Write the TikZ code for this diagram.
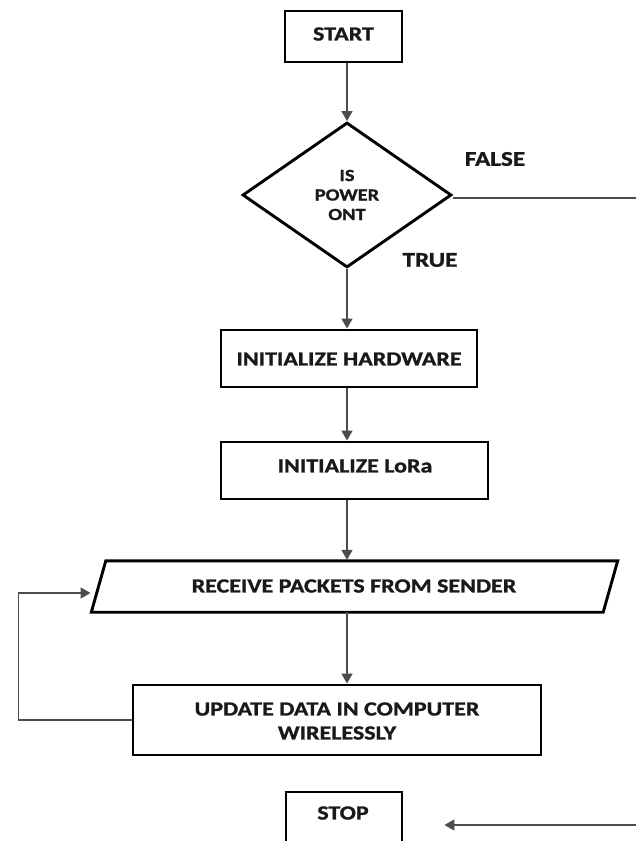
\documentclass[tikz,border=0pt]{standalone}
\usepackage{fontspec}
\setmainfont{Carlito}[FakeStretch=1.2,BoldFeatures={FakeBold=1.2}]
\usetikzlibrary{arrows.meta,shapes.geometric,calc}
\begin{document}
\begin{tikzpicture}[x=1pt,y=-1pt,
  box/.style={draw=black,line width=2.9pt,rectangle,inner sep=0pt,align=center,
     font=\fontsize{20}{24}\selectfont\bfseries,text=black!90},
  dia/.style={draw=black,line width=2.9pt,diamond,inner sep=0pt,align=center,
     font=\fontsize{17}{19.5}\selectfont\bfseries,text=black!90},
  lbl/.style={font=\fontsize{21}{24}\selectfont\bfseries,text=black!90,inner sep=0pt},
  conn/.style={draw=black!70,line width=1.5pt,-{Triangle[length=10pt,width=11pt]}},
  tx/.style={font=\fontsize{20}{24}\selectfont\bfseries,text=black!90,inner sep=0pt,align=center}]
\useasboundingbox[fill=white] (0,0) rectangle (636,841);

\node[box,minimum width=117pt,minimum height=51pt] (start) at (343.5,36.5) {};
\node[tx] (starttx) at (343.5,34) {START};
\node[dia,minimum width=209pt,minimum height=145pt] (dec) at (347,195) {IS\\POWER\\ONT};
\node[lbl] (false) at (495,159) {FALSE};
\node[lbl] (true) at (430,260) {TRUE};
\node[box,minimum width=256pt,minimum height=57pt] (hw) at (349,358.5) {};
\node[tx] (hwtx) at (349,359) {INITIALIZE HARDWARE};
\node[box,minimum width=267pt,minimum height=57pt] (lora) at (354.5,470.5) {};
\node[tx] (loratx) at (355,466) {INITIALIZE LoRa};
\node[minimum width=511.5pt,minimum height=51pt,inner sep=0pt] (recv) at (354.5,586.5) {};
\node[tx] (recvtx) at (354,586) {RECEIVE PACKETS FROM SENDER};
\draw[line width=2.9pt,line join=miter]
  ([xshift=7.25pt]recv.north west) -- ([xshift=7.25pt]recv.north east)
  -- ([xshift=-7.25pt]recv.south east) -- ([xshift=-7.25pt]recv.south west) -- cycle;
\node[box,minimum width=408pt,minimum height=70pt] (upd) at (337,720) {};
\node[tx] (updtx) at (337,721) {UPDATE DATA IN COMPUTER\\WIRELESSLY};
\node[box,minimum width=116pt,minimum height=51pt] (stop) at (344,817.5) {};
\node[tx] (stoptx) at (343,813) {STOP};

\draw[conn] (dec.north |- start.south) -- (dec.north);
\draw[conn] (dec.south) -- (dec.south |- hw.north);
\draw[conn] (hw.south -| dec.south) -- (lora.north -| dec.south);
\draw[conn] (lora.south -| dec.south) -- ([yshift=1pt]recv.north -| dec.south);
\draw[conn] (recv.south -| dec.south) -- (upd.north -| dec.south);
\draw[conn] (upd.west) -- ++(-113,0) |- ([xshift=-8pt,yshift=-6.5pt]recv.west);
\draw[conn] ([yshift=-3pt]dec.east) -- ++(200,0) |- ([xshift=41pt,yshift=-7.5pt]stop.east);
\end{tikzpicture}
\end{document}
